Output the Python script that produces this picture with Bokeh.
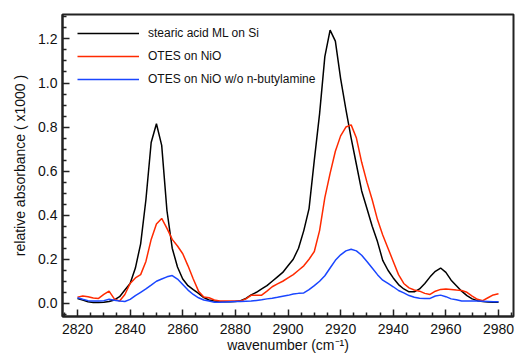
from bokeh.plotting import figure
from bokeh.models import Range1d, FixedTicker, Legend, LegendItem, PrintfTickFormatter
from bokeh.embed import file_html
from bokeh.resources import INLINE

wavenumber = list(range(2820, 2982, 2))

stearic_acid_si = [
    0.022, 0.015, 0.007, 0.004, 0.004, 0.005, 0.008, 0.015, 0.03, 0.06,
    0.09, 0.16, 0.27, 0.47, 0.73, 0.815, 0.717, 0.42, 0.25, 0.165,
    0.11, 0.08, 0.062, 0.045, 0.026, 0.015, 0.01, 0.008, 0.007, 0.007,
    0.008, 0.012, 0.022, 0.038, 0.05, 0.065, 0.08, 0.1, 0.12, 0.14,
    0.17, 0.2, 0.25, 0.33, 0.43, 0.65, 0.86, 1.12, 1.24, 1.19,
    1.02, 0.88, 0.75, 0.63, 0.51, 0.43, 0.35, 0.28, 0.195, 0.15,
    0.115, 0.085, 0.065, 0.052, 0.052, 0.065, 0.09, 0.12, 0.145, 0.16,
    0.14, 0.105, 0.08, 0.055, 0.035, 0.02, 0.012, 0.008, 0.006, 0.005,
    0.005,
]

otes_nio = [
    0.028, 0.033, 0.03, 0.024, 0.022, 0.04, 0.055, 0.02, 0.01, 0.04,
    0.09, 0.115, 0.13, 0.19, 0.29, 0.36, 0.385, 0.34, 0.29, 0.26,
    0.225, 0.17, 0.11, 0.055, 0.028, 0.025, 0.015, 0.01, 0.01, 0.01,
    0.01, 0.01, 0.02, 0.036, 0.037, 0.037, 0.055, 0.075, 0.088, 0.1,
    0.115, 0.13, 0.15, 0.17, 0.2, 0.235, 0.33, 0.48, 0.59, 0.69,
    0.76, 0.80, 0.81, 0.75, 0.64, 0.55, 0.47, 0.38, 0.31, 0.25,
    0.19, 0.13, 0.09, 0.07, 0.06, 0.055, 0.045, 0.04, 0.055, 0.063,
    0.065, 0.063, 0.06, 0.058, 0.05, 0.033, 0.018, 0.012, 0.025, 0.038,
    0.043,
]

otes_nio_no_amine = [
    0.025, 0.018, 0.012, 0.01, 0.01, 0.012, 0.018, 0.014, 0.01, 0.008,
    0.018, 0.035, 0.05, 0.065, 0.082, 0.1, 0.11, 0.12, 0.126, 0.11,
    0.085, 0.06, 0.04, 0.025, 0.015, 0.01, 0.005, 0.005, 0.006, 0.007,
    0.008, 0.008, 0.009, 0.01, 0.013, 0.016, 0.02, 0.023, 0.027, 0.032,
    0.036, 0.042, 0.045, 0.047, 0.062, 0.08, 0.1, 0.125, 0.16, 0.195,
    0.22, 0.238, 0.245, 0.238, 0.218, 0.19, 0.16, 0.13, 0.105, 0.09,
    0.075, 0.058, 0.047, 0.035, 0.027, 0.023, 0.022, 0.022, 0.033, 0.037,
    0.03, 0.02, 0.016, 0.01, 0.01, 0.01, 0.01, 0.009, 0.008, 0.007,
    0.007,
]

series_labels = ["stearic acid ML on Si", "OTES on NiO", "OTES on NiO w/o n-butylamine"]
series_colors = ["#000000", "#ff2a00", "#1a46ff"]

x_major = [2820, 2840, 2860, 2880, 2900, 2920, 2940, 2960, 2980]
x_minor = [2815, 2825, 2830, 2835, 2845, 2850, 2855, 2865, 2870, 2875, 2885, 2890, 2895,
           2905, 2910, 2915, 2925, 2930, 2935, 2945, 2950, 2955, 2965, 2970, 2975, 2985]
y_major = [0.0, 0.2, 0.4, 0.6, 0.8, 1.0, 1.2]
y_minor = [-0.05, 0.05, 0.1, 0.15, 0.25, 0.3, 0.35, 0.45, 0.5, 0.55, 0.65, 0.7, 0.75,
           0.85, 0.9, 0.95, 1.05, 1.1, 1.15, 1.25, 1.3]

FONT = "Liberation Sans"

p = figure(width=516, height=355, output_backend="svg", toolbar_location=None,
           x_range=Range1d(2814.3, 2985.7), y_range=Range1d(-0.06, 1.311))
p.min_border_left = 62
p.min_border_right = 3
p.min_border_top = 14
p.min_border_bottom = 39
p.background_fill_color = "white"
p.border_fill_color = "white"
p.outline_line_color = "#222222"
p.outline_line_width = 2
p.xgrid.visible = False
p.ygrid.visible = False

renderers = []
for ys, c in zip([stearic_acid_si, otes_nio, otes_nio_no_amine], series_colors):
    r = p.line(wavenumber, ys, line_color=c, line_width=1.5)
    renderers.append(r)

p.xaxis.ticker = FixedTicker(ticks=x_major, minor_ticks=x_minor)
p.yaxis.ticker = FixedTicker(ticks=y_major, minor_ticks=y_minor)
p.yaxis.formatter = PrintfTickFormatter(format="%.1f")

for ax in [p.xaxis[0], p.yaxis[0]]:
    ax.axis_line_color = "#222222"
    ax.axis_line_width = 2
    ax.major_tick_in = 7
    ax.major_tick_out = 0
    ax.minor_tick_in = 4
    ax.minor_tick_out = 0
    ax.major_tick_line_color = "#222222"
    ax.minor_tick_line_color = "#222222"
    ax.major_tick_line_width = 1.5
    ax.minor_tick_line_width = 1.5
    ax.major_label_text_font = FONT
    ax.major_label_text_font_size = "14px"
    ax.major_label_text_color = "#111111"
    ax.axis_label_text_font = FONT
    ax.axis_label_text_font_size = "14px"
    ax.axis_label_text_font_style = "normal"
    ax.axis_label_text_color = "#111111"

p.xaxis.axis_label = "wavenumber (cm\u207b\u00b9)"
p.yaxis.axis_label = "relative absorbance ( x1000 )"
p.xaxis.major_label_standoff = 7
p.yaxis.major_label_standoff = 5
p.xaxis.axis_label_standoff = 0
p.yaxis.axis_label_standoff = 7

legend = Legend(items=[LegendItem(label=lab, renderers=[r]) for lab, r in zip(series_labels, renderers)],
                location=(15, 229), margin=0, padding=0, spacing=7,
                glyph_width=62, glyph_height=16, label_height=16, label_standoff=9,
                label_text_font=FONT, label_text_font_size="12px", label_text_color="#111111",
                border_line_color=None, background_fill_alpha=0)
p.add_layout(legend)

open("out.html", "w").write(file_html(p, INLINE))
